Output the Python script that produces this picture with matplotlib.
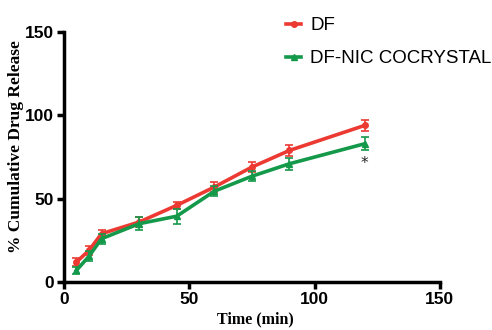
#!/usr/bin/env python3
"""Cumulative drug release of DF vs DF-NIC cocrystal."""
import matplotlib
matplotlib.use("Agg")
import matplotlib.pyplot as plt

time_min = [5, 10, 15, 30, 45, 60, 75, 90, 120]
df_mean = [12, 19, 29, 36, 46, 57, 69, 79, 94]
df_err = [2.5, 2.5, 2.5, 3, 2, 3, 3, 3.5, 3.5]
cocr_mean = [7, 15.5, 26, 35, 39.5, 54.5, 63.5, 71, 83]
cocr_err = [2, 3, 3, 4, 4.5, 3, 3, 3.5, 4]

RED = "#EC3A33"
GREEN = "#14994A"

fig = plt.figure(figsize=(4.92, 3.30), dpi=100)
ax = fig.add_axes([0.130, 0.1455, 0.764, 0.757])

l1 = ax.errorbar(time_min, df_mean, yerr=df_err, color=RED, lw=2.6,
                 marker="o", ms=4, capsize=3, capthick=1.2, elinewidth=1.2,
                 label="DF", zorder=3)
l2 = ax.errorbar(time_min, cocr_mean, yerr=cocr_err, color=GREEN, lw=2.6,
                 marker="^", ms=4.5, capsize=3, capthick=1.2, elinewidth=1.2,
                 label="DF-NIC COCRYSTAL", zorder=4)

ax.text(120, 71, "*", ha="center", va="center", fontsize=11, color="#222222")

ax.set_xlim(0, 150)
ax.set_ylim(0, 150)
ax.set_xticks([0, 50, 100, 150])
ax.set_yticks([0, 50, 100, 150])
for s in ("top", "right"):
    ax.spines[s].set_visible(False)
for s in ("left", "bottom"):
    ax.spines[s].set_linewidth(2.5)
ax.tick_params(direction="out", length=5, width=2.5, pad=2)
for lab in ax.get_xticklabels() + ax.get_yticklabels():
    lab.set_fontfamily("Liberation Sans")
    lab.set_fontweight("bold")
    lab.set_fontsize(12.5)

ax.set_xlabel("Time (min)", family="Liberation Serif", fontweight="bold",
              fontsize=11.5)
ax.set_ylabel("% Cumulative Drug Release", family="Liberation Serif",
              fontweight="bold", fontsize=12.5)
ax.xaxis.set_label_coords(0.51, -0.116)
ax.yaxis.set_label_coords(-0.106, 0.544)

leg = ax.legend(handles=[l1.lines[0], l2.lines[0]],
                labels=["DF", "DF-NIC COCRYSTAL"],
                loc="upper left", bbox_to_anchor=(0.546, 1.127),
                frameon=False, handlelength=0.8, handletextpad=0.5,
                labelspacing=0.84, prop={"family": "Liberation Sans", "size": 13.5})

fig.savefig("out.png", dpi=100)
